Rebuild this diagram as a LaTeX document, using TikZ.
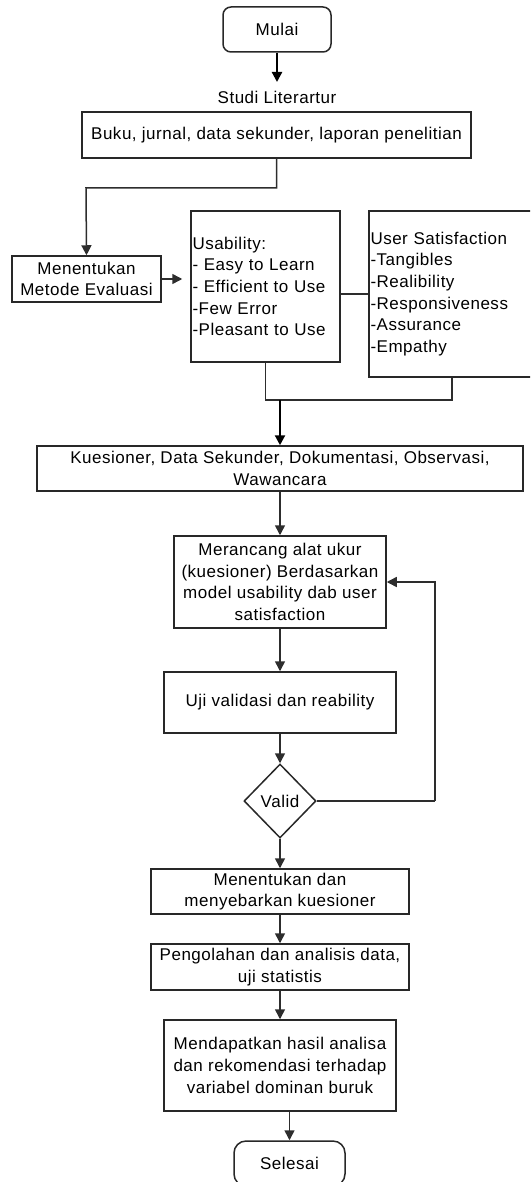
\documentclass[tikz,border=0pt]{standalone}
\usepackage{fontspec}
\setmainfont{Liberation Sans}[LetterSpace=3]
\usepackage{xcolor}
\usetikzlibrary{shapes.geometric,arrows.meta,positioning}
\definecolor{boxline}{RGB}{40,40,40}
\definecolor{flowgray}{RGB}{45,45,45}

\tikzset{
    flowfont/.style={font=\fontsize{17}{21.7}\selectfont},
    procbox/.style={draw=boxline, line width=1.5pt, inner sep=2pt, align=center, flowfont},
    listbox/.style={draw=boxline, line width=1.5pt, inner sep=1.5pt, align=left, flowfont},
    termbox/.style={draw=boxline, line width=1.5pt, rounded corners=8pt, align=center, flowfont},
    decbox/.style={draw=boxline, line width=1.5pt, diamond, inner sep=0pt, flowfont},
    flowline/.style={draw=flowgray, line width=1.5pt},
    flowarrow/.style={flowline, -{Triangle[length=10pt,width=10pt]}},
    boldarrow/.style={draw=black, line width=2.2pt, -{Triangle[length=10pt,width=10pt]}}
}

\begin{document}
\begin{tikzpicture}[x=1pt, y=-1pt]
            \clip (0,0) rectangle (530,1182);
            % start and literature
            \node[termbox, minimum width=108pt, minimum height=45pt] (mulai) at (277,29.5) {Mulai};
            \node[flowfont] (studi) at (277,97) {Studi Literartur};
            \node[procbox, minimum width=389pt, minimum height=46pt] (buku) at (276.5,135)
                {Buku, jurnal, data sekunder, laporan penelitian};
            % evaluation models
            \node[procbox, minimum width=149pt, minimum height=46pt] (metode) at (86.5,279)
                {Menentukan\\Metode Evaluasi};
            \node[listbox, text width=146pt, minimum height=151pt] (usab) at (265.5,286.5)
                {Usability:\\- Easy to Learn\\- Efficient to Use\\-Few Error\\-Pleasant to Use};
            \node[listbox, text width=168pt, minimum height=166pt] (usat) at (454.5,294)
                {User Satisfaction\\-Tangibles\\-Realibility\\-Responsiveness\\-Assurance\\-Empathy};
            \coordinate (join) at (280,400);
            % data collection and instrument
            \node[procbox, minimum width=486pt, minimum height=45pt] (kues) at (280,468.5)
                {Kuesioner, Data Sekunder, Dokumentasi, Observasi,\\Wawancara};
            \node[procbox, minimum width=212pt, minimum height=92pt] (rancang) at (280,582)
                {Merancang alat ukur\\(kuesioner) Berdasarkan\\model usability dab user\\satisfaction};
            \node[procbox, minimum width=232pt, minimum height=61pt] (uji) at (280,702.5)
                {Uji validasi dan reability};
            \node[decbox, minimum width=72pt, minimum height=74pt] (valid) at (280,801) {Valid};
            \coordinate (balik) at (435,801);
            % analysis and end
            \node[procbox, minimum width=258pt, minimum height=45pt] (sebar) at (280,891.5)
                {Menentukan dan\\menyebarkan kuesioner};
            \node[procbox, minimum width=258pt, minimum height=46pt] (olah) at (280,967)
                {Pengolahan dan analisis data,\\uji statistis};
            \node[procbox, minimum width=232pt, minimum height=91pt] (hasil) at (280,1065.5)
                {Mendapatkan hasil analisa\\dan rekomendasi terhadap\\variabel dominan buruk};
            \node[termbox, rounded corners=12pt, minimum width=111pt, minimum height=45pt] (selesai) at (289.5,1163.5)
                {Selesai};

            \draw[boldarrow] (mulai) -- (mulai.south |- 0,82);
            \draw[flowarrow] (buku.south) |- (86,188) -- (metode.north);
            \draw[flowarrow, shorten >=8pt] (metode.east) -- (metode.east -| usab.west);
            \draw[flowline] (usat.west) -- (usat.west -| usab.east);
            \draw[flowline] (usab.south) |- (452,400) -- (usat.south -| 452,0);
            \draw[boldarrow] (join) -- (kues.north);
            \draw[flowarrow] (kues) -- (rancang);
            \draw[flowarrow] (rancang) -- (uji);
            \draw[flowarrow] (uji) -- (valid);
            \draw[flowline] (valid.east) -- (balik);
            \draw[flowarrow] (balik) |- (rancang.east);
            \draw[flowarrow] (valid) -- (sebar);
            \draw[flowarrow] (sebar) -- (olah);
            \draw[flowarrow] (olah) -- (hasil);
            \draw[flowarrow] (hasil.south -| selesai) -- (selesai);
        \end{tikzpicture}
\end{document}
